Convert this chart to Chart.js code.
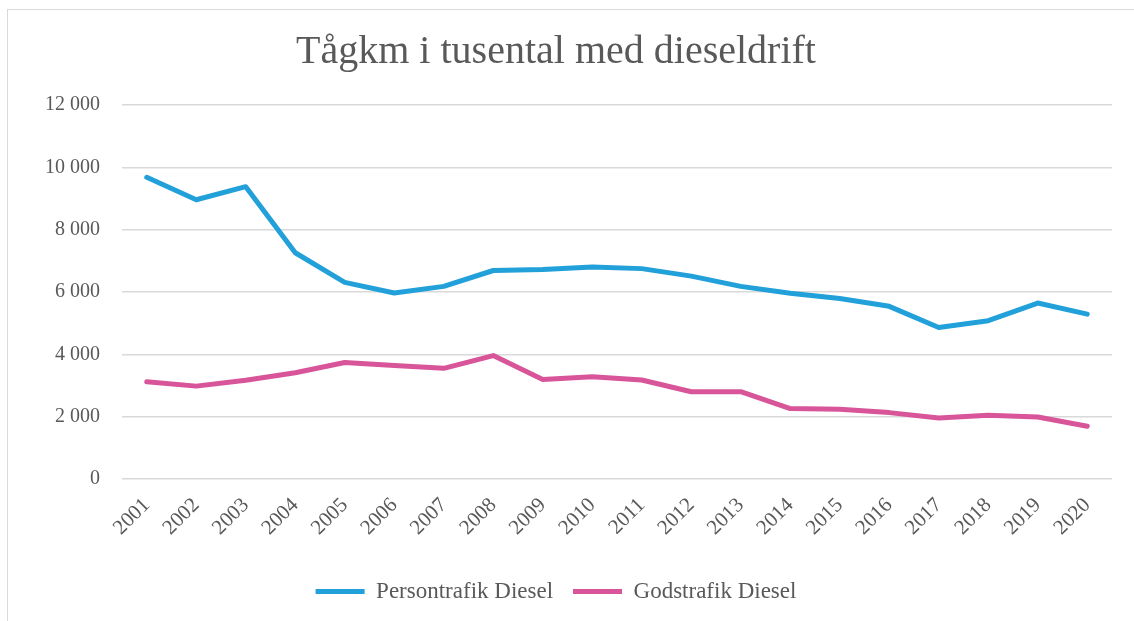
<!DOCTYPE html>
<html>
<head>
<meta charset="utf-8">
<script src="https://cdn.jsdelivr.net/npm/chart.js@4"></script>
<style>
  html, body { margin: 0; padding: 0; background: #fff; }
  #wrap { position: relative; width: 1134px; height: 621px; overflow: hidden; }
  #frame { position: absolute; left: 7px; top: 9px; width: 1200px; height: 700px;
           border-left: 1px solid #d9d9d9; border-top: 1px solid #d9d9d9; }
  canvas { position: absolute; left: 0; top: 0; }
</style>
</head>
<body>
<div id="wrap">
  <div id="frame"></div>
  <canvas id="c" width="1134" height="621"></canvas>
</div>
<script>
// years on the x axis
const years = ['2001','2002','2003','2004','2005','2006','2007','2008','2009','2010',
               '2011','2012','2013','2014','2015','2016','2017','2018','2019','2020'];
// train-km in thousands
const persontrafik = [9680, 8960, 9380, 7260, 6310, 5970, 6180, 6690, 6720, 6800,
                      6750, 6510, 6180, 5960, 5790, 5540, 4860, 5080, 5645, 5290];
const godstrafik   = [3120, 2980, 3170, 3410, 3740, 3645, 3550, 3960, 3195, 3280,
                      3175, 2800, 2800, 2260, 2240, 2130, 1960, 2045, 1990, 1690];
const yTicks = [0, 2000, 4000, 6000, 8000, 10000, 12000];

const serif = "'Liberation Serif', 'DejaVu Serif', serif";
const grey = '#595959';

const ctx = document.getElementById('c');
new Chart(ctx, {
  type: 'line',
  data: {
    labels: years,
    datasets: [
      { label: 'Persontrafik Diesel', data: persontrafik, borderColor: '#22a0d9',
        backgroundColor: '#22a0d9', borderWidth: 5, pointRadius: 0, tension: 0,
        borderCapStyle: 'round', borderJoinStyle: 'round' },
      { label: 'Godstrafik Diesel', data: godstrafik, borderColor: '#d75598',
        backgroundColor: '#d75598', borderWidth: 5, pointRadius: 0, tension: 0,
        borderCapStyle: 'round', borderJoinStyle: 'round' }
    ]
  },
  options: {
    responsive: false,
    animation: false,
    layout: { padding: { left: 0, right: 22, top: 12, bottom: 8 } },
    plugins: {
      title: {
        display: true,
        text: 'Tågkm i tusental med dieseldrift',
        color: grey,
        font: { family: serif, size: 40, weight: 'normal' },
        padding: { top: 16, bottom: 29 }
      },
      legend: {
        position: 'bottom',
        labels: {
          color: grey,
          font: { family: serif, size: 23 },
          boxWidth: 49,
          boxHeight: 5,
          padding: 20,
          generateLabels: (chart) => chart.data.datasets.map((d, i) => ({
            text: d.label, fillStyle: d.borderColor, strokeStyle: d.borderColor,
            lineWidth: 0, fontColor: grey, datasetIndex: i
          }))
        }
      },
      tooltip: { enabled: false }
    },
    scales: {
      x: {
        offset: true,
        afterFit: (s) => { s.height = 81; },
        grid: { display: false },
        border: { display: false },
        ticks: {
          color: grey, font: { family: serif, size: 21 },
          maxRotation: 45, minRotation: 45, autoSkip: false, padding: 6
        }
      },
      y: {
        min: 0, max: 12000,
        afterFit: (s) => { s.width = 122; },
        afterBuildTicks: (s) => { s.ticks = yTicks.map(v => ({ value: v })); },
        grid: { color: '#d9d9d9', lineWidth: 1.5, drawTicks: false },
        border: { display: false },
        ticks: {
          color: grey, font: { family: serif, size: 20 }, padding: 22,
          callback: (v) => String(v).replace(/\B(?=(\d{3})+(?!\d))/g, ' ')
        }
      }
    }
  }
});
</script>
</body>
</html>
